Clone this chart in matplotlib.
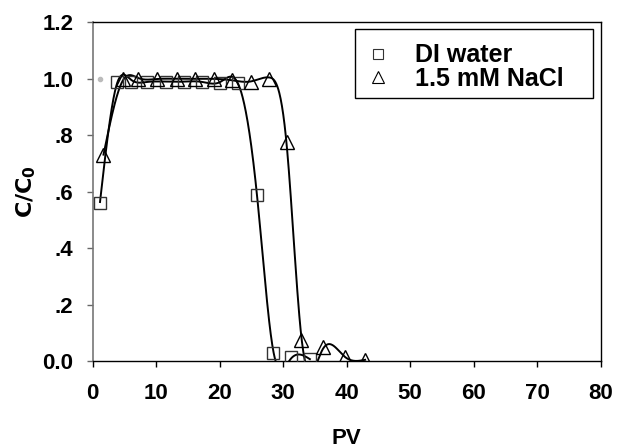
import numpy as np
import matplotlib
matplotlib.use("Agg")
import matplotlib.pyplot as plt
from matplotlib.lines import Line2D
from matplotlib.patches import Rectangle

plt.rcParams['font.family'] = ['Liberation Sans', 'DejaVu Sans']
plt.rcParams['font.weight'] = 'bold'

# DI water
di_pv = [1.15, 3.8, 6.1, 8.6, 11.5, 14.3, 17.2, 20.0, 22.9, 25.9, 28.4, 31.2, 34.2]
di_c = [0.56, 0.99, 0.99, 0.99, 0.99, 0.99, 0.99, 0.985, 0.985, 0.59, 0.027, 0.015, 0.006]

# 1.5 mM NaCl
na_pv = [1.7, 4.8, 7.2, 10.1, 13.2, 16.1, 19.1, 22.0, 24.9, 27.8, 30.6, 32.8, 36.2, 39.7, 42.9]
na_c = [0.73, 1.0, 1.0, 1.0, 1.0, 1.0, 1.0, 0.995, 0.99, 1.0, 0.775, 0.075, 0.05, 0.013, 0.005]

# gray reference dot
ref_pv = [1.2]
ref_c = [1.0]

x_ticks = [0, 10, 20, 30, 40, 50, 60, 70, 80]
y_ticks = [0.0, 0.2, 0.4, 0.6, 0.8, 1.0, 1.2]
y_tick_labels = ['0.0', '.2', '.4', '.6', '.8', '1.0', '1.2']
labels = ['DI water', '1.5 mM NaCl']

SMOOTH = 0.1


def smoothing_spline(x, y, xs, lam):
    """Reinsch cubic smoothing spline (natural)."""
    x = np.asarray(x, float)
    y = np.asarray(y, float)
    n = len(x)
    h = np.diff(x)
    Q = np.zeros((n, n - 2))
    R = np.zeros((n - 2, n - 2))
    for j in range(1, n - 1):
        c = j - 1
        Q[j - 1, c] = 1 / h[j - 1]
        Q[j, c] = -1 / h[j - 1] - 1 / h[j]
        Q[j + 1, c] = 1 / h[j]
        R[c, c] = (h[j - 1] + h[j]) / 3
        if c + 1 < n - 2:
            R[c, c + 1] = h[j] / 6
            R[c + 1, c] = h[j] / 6
    gam = np.linalg.solve(R + lam * Q.T @ Q, Q.T @ y)
    g = y - lam * Q @ gam
    M = np.concatenate([[0.0], gam, [0.0]])
    out = np.empty_like(xs)
    for k, xv in enumerate(xs):
        i = min(max(np.searchsorted(x, xv) - 1, 0), n - 2)
        t1 = x[i + 1] - xv
        t0 = xv - x[i]
        out[k] = (M[i] * t1 ** 3 + M[i + 1] * t0 ** 3) / (6 * h[i]) \
            + (g[i] / h[i] - M[i] * h[i] / 6) * t1 \
            + (g[i + 1] / h[i] - M[i + 1] * h[i] / 6) * t0
    return out


fig = plt.figure(figsize=(6.18, 4.48), dpi=100)
ax = fig.add_axes([0.150, 0.194, 0.822, 0.756])

for pv, c in [(di_pv, di_c), (na_pv, na_c)]:
    xs = np.linspace(pv[0], pv[-1], 800)
    ys = smoothing_spline(pv, c, xs, SMOOTH)
    ax.plot(xs, ys, color='black', lw=1.4, zorder=2, clip_on=True)

ax.plot(di_pv, di_c, linestyle='none', marker='s', markersize=9,
        markerfacecolor='none', markeredgecolor='#333333', markeredgewidth=1.0, zorder=3)
ax.plot(na_pv, na_c, linestyle='none', marker='^', markersize=10,
        markerfacecolor='none', markeredgecolor='black', markeredgewidth=1.0, zorder=3)
ax.plot(ref_pv, ref_c, linestyle='none', marker='o', markersize=3,
        color='#bbbbbb', zorder=1)

ax.set_xlim(0, 80)
ax.set_ylim(0, 1.2)
ax.set_xticks(x_ticks)
ax.set_yticks(y_ticks)
ax.set_yticklabels(y_tick_labels)
ax.tick_params(direction='out', length=4, width=1, labelsize=16)
for lab in ax.get_xticklabels() + ax.get_yticklabels():
    lab.set_fontweight('bold')
ax.tick_params(axis='x', pad=12)
ax.tick_params(axis='y', pad=10, colors='#666666', labelcolor='black')

for side in ['top', 'right', 'bottom']:
    ax.spines[side].set_color('black')
    ax.spines[side].set_linewidth(1.0)
ax.spines['left'].set_color('#777777')
ax.spines['left'].set_linewidth(1.2)

ax.set_xlabel('PV', fontsize=16, fontweight='bold', labelpad=17)
ax.set_ylabel(r'$\mathbf{C/C_0}$', fontsize=16, fontweight='bold', labelpad=3)

# legend box
ax.add_patch(Rectangle((0.516, 0.777), 0.469, 0.204, transform=ax.transAxes,
                       facecolor='white', edgecolor='black', lw=1.0, zorder=4))

handles = [
    Line2D([], [], linestyle='none', marker='s', markersize=7,
           markerfacecolor='none', markeredgecolor='#333333', markeredgewidth=0.8),
    Line2D([], [], linestyle='none', marker='^', markersize=8,
           markerfacecolor='none', markeredgecolor='black', markeredgewidth=0.8),
]
leg = ax.legend(handles, labels, loc='upper left', bbox_to_anchor=(0.542, 0.938),
                frameon=False, fontsize=18,
                borderpad=0.0, handletextpad=1.08, labelspacing=-0.02,
                borderaxespad=0.0, handlelength=0.8)
leg.set_zorder(5)
for t in leg.get_texts():
    t.set_fontweight('bold')

fig.savefig('out.png', dpi=100)
